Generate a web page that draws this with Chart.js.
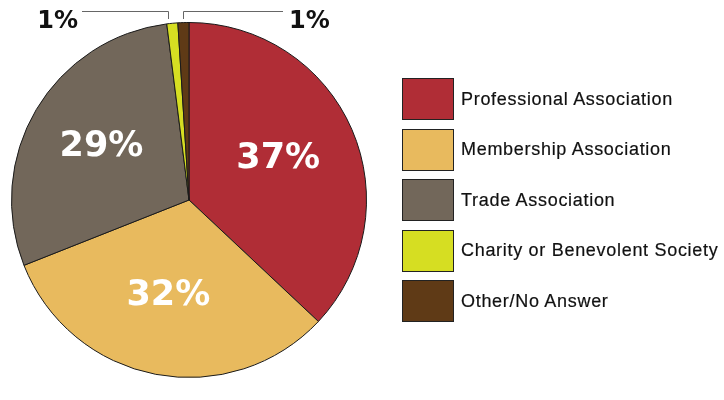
<!DOCTYPE html>
<html>
<head>
<meta charset="utf-8">
<script src="https://cdn.jsdelivr.net/npm/chart.js@4.4.1/dist/chart.umd.min.js"></script>
<style>
  html, body { margin: 0; padding: 0; background: #fff; }
  #wrap { position: relative; width: 724px; height: 400px; }
  #legend { position: absolute; left: 402px; top: 78px; font-family: "Liberation Sans", Arial, sans-serif; }
  .item { position: absolute; left: 0; height: 42px; display: flex; align-items: center; white-space: nowrap; }
  .box { width: 50px; height: 40px; border: 1px solid #222; box-sizing: content-box; }
  .txt { margin-left: 7px; font-size: 18px; letter-spacing: 0.7px; color: #111; -webkit-text-stroke: 0.2px #111; }
</style>
</head>
<body>
<div id="wrap">
  <canvas id="pie" width="724" height="400"></canvas>
  <div id="legend"></div>
</div>
<script>
const labels = ['Professional Association', 'Membership Association', 'Trade Association',
                'Charity or Benevolent Society', 'Other/No Answer'];
const values = [37, 32, 29, 1, 1];
const colors = ['#b02d36', '#e8ba5e', '#72675a', '#d6de22', '#5f3a16'];

// легенда справа
const legendEl = document.getElementById('legend');
legendEl.innerHTML = labels.map((l, i) => `
  <div class="item" style="top:${i * 50.5}px">
    <div class="box" style="background:${colors[i]}"></div>
    <div class="txt">${l}</div>
  </div>`).join('');

// подписи процентов + выноски для маленьких долей
const pctLabels = {
  id: 'pctLabels',
  afterDatasetsDraw(chart) {
    const ctx = chart.ctx;
    const meta = chart.getDatasetMeta(0);
    meta.data.forEach((arc, i) => {
      const p = arc.getProps(['x', 'y', 'startAngle', 'endAngle', 'outerRadius']);
      const mid = (p.startAngle + p.endAngle) / 2;
      const txt = values[i] + '%';
      ctx.save();
      if (values[i] >= 5) {
        const r = p.outerRadius * 0.56;
        ctx.font = 'bold 35px "DejaVu Sans", sans-serif';
        ctx.fillStyle = '#fff';
        ctx.textAlign = 'center';
        ctx.textBaseline = 'middle';
        ctx.fillText(txt, p.x + Math.cos(mid) * r - 2, p.y + Math.sin(mid) * r - 2);
      } else {
        // последняя доля — выноска вправо, остальные влево
        const left = i < values.length - 1;
        const ax = Math.round(p.x + Math.cos(mid) * p.outerRadius) + (left ? -4 : 0);
        const lineY = 11;
        const endX = left ? ax - 86 : ax + 100;
        ctx.strokeStyle = '#666';
        ctx.lineWidth = 1;
        ctx.beginPath();
        ctx.moveTo(ax + 0.5, 19);
        ctx.lineTo(ax + 0.5, lineY + 0.5);
        ctx.lineTo(endX, lineY + 0.5);
        ctx.stroke();
        ctx.font = 'bold 24px "DejaVu Sans", sans-serif';
        ctx.fillStyle = '#111';
        ctx.textBaseline = 'alphabetic';
        ctx.textAlign = left ? 'right' : 'left';
        ctx.fillText(txt, left ? endX - 4 : endX + 6, 28);
      }
      ctx.restore();
    });
  }
};

new Chart(document.getElementById('pie'), {
  type: 'pie',
  data: {
    labels,
    datasets: [{ data: values, backgroundColor: colors, borderColor: '#1a1a1a', borderWidth: 1 }]
  },
  options: {
    responsive: false,
    animation: false,
    layout: { padding: { left: 11, top: 22, right: 357, bottom: 22 } },
    plugins: { legend: { display: false }, tooltip: { enabled: false } }
  },
  plugins: [pctLabels]
});
</script>
</body>
</html>
